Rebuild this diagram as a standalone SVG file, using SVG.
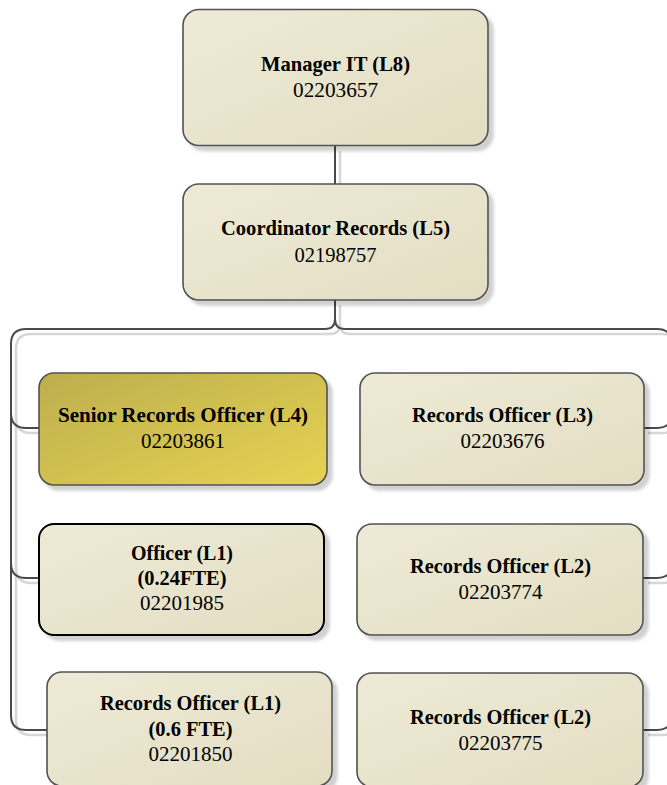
<svg xmlns="http://www.w3.org/2000/svg" width="667" height="785" viewBox="0 0 667 785">
<defs>
<linearGradient id="gBeige" x1="0" y1="0" x2="1" y2="1">
<stop offset="0" stop-color="#EEEAD6"/>
<stop offset="1" stop-color="#E3DDC2"/>
</linearGradient>
<linearGradient id="gGold" x1="0" y1="0" x2="1" y2="1">
<stop offset="0" stop-color="#BDAE4E"/>
<stop offset="1" stop-color="#E6D352"/>
</linearGradient>
<filter id="sh" x="-10%" y="-10%" width="130%" height="130%">
<feDropShadow dx="5" dy="5" stdDeviation="1.5" flood-color="#000" flood-opacity="0.18"/>
</filter>
<style>
.box{fill:url(#gBeige);stroke:#525252;stroke-width:1.6;filter:url(#sh)}
.gold{fill:url(#gGold)}
.blk{stroke:#000;stroke-width:2}
.t{font-family:"Liberation Serif","Times New Roman",serif;font-size:21px;font-weight:bold;fill:#000;text-anchor:middle}
.n{font-family:"Liberation Serif","Times New Roman",serif;font-size:21px;fill:#000;text-anchor:middle}
.c{fill:none;stroke:#4a4a4a;stroke-width:2}
.cs{fill:none;stroke:#d6d6d6;stroke-width:2.5}
</style>
</defs>
<rect width="667" height="785" fill="#fff"/>
<g id="connectors">
<g transform="translate(5,5)" class="cs">
<path d="M335,146 V184"/>
<path d="M335,300 V319 Q335,329 325,329 H26 Q11,329 11,344 V715 Q11,730 26,730 H47"/>
<path d="M11,413 Q11,428 26,428 H39"/>
<path d="M11,563 Q11,578 26,578 H39"/>
<path d="M335,319 Q335,329 345,329 H657 Q672,329 672,344 V715"/>
<path d="M643,428 H657 Q672,428 672,413"/>
<path d="M643,578 H657 Q672,578 672,563"/>
<path d="M643,730 H657 Q672,730 672,715"/>
</g>
<g class="c">
<path d="M335,146 V184"/>
<path d="M335,300 V319 Q335,329 325,329 H26 Q11,329 11,344 V715 Q11,730 26,730 H47"/>
<path d="M11,413 Q11,428 26,428 H39"/>
<path d="M11,563 Q11,578 26,578 H39"/>
<path d="M335,319 Q335,329 345,329 H657 Q672,329 672,344 V715"/>
<path d="M643,428 H657 Q672,428 672,413"/>
<path d="M643,578 H657 Q672,578 672,563"/>
<path d="M643,730 H657 Q672,730 672,715"/>
</g>
</g>
<g id="manager">
<rect class="box" x="183" y="9.5" width="305" height="136" rx="16"/>
<text class="t" x="335.5" y="71" textLength="149" lengthAdjust="spacingAndGlyphs">Manager IT (L8)</text>
<text class="n" x="335.5" y="97" textLength="85" lengthAdjust="spacingAndGlyphs">02203657</text>
</g>
<g id="coordinator">
<rect class="box" x="183" y="184" width="305" height="116" rx="16"/>
<text class="t" x="335.5" y="235" textLength="229" lengthAdjust="spacingAndGlyphs">Coordinator Records (L5)</text>
<text class="n" x="335.5" y="262" textLength="82" lengthAdjust="spacingAndGlyphs">02198757</text>
</g>
<g id="senior">
<rect class="box gold" x="39" y="373" width="288" height="112" rx="15"/>
<text class="t" x="183" y="422" textLength="250" lengthAdjust="spacingAndGlyphs">Senior Records Officer (L4)</text>
<text class="n" x="183" y="448" textLength="84" lengthAdjust="spacingAndGlyphs">02203861</text>
</g>
<g id="ro-l3">
<rect class="box" x="360" y="373" width="284" height="112" rx="15"/>
<text class="t" x="502.5" y="422" textLength="181" lengthAdjust="spacingAndGlyphs">Records Officer (L3)</text>
<text class="n" x="502.5" y="448" textLength="84" lengthAdjust="spacingAndGlyphs">02203676</text>
</g>
<g id="officer-l1">
<rect class="box blk" x="39" y="524" width="285" height="111" rx="15"/>
<text class="t" x="182" y="560" textLength="102" lengthAdjust="spacingAndGlyphs">Officer (L1)</text>
<text class="t" x="182" y="585" textLength="89" lengthAdjust="spacingAndGlyphs">(0.24FTE)</text>
<text class="n" x="182" y="610" textLength="84" lengthAdjust="spacingAndGlyphs">02201985</text>
</g>
<g id="ro-l2-a">
<rect class="box" x="357" y="524" width="286" height="111" rx="15"/>
<text class="t" x="500.5" y="573" textLength="181" lengthAdjust="spacingAndGlyphs">Records Officer (L2)</text>
<text class="n" x="500.5" y="599" textLength="84" lengthAdjust="spacingAndGlyphs">02203774</text>
</g>
<g id="ro-l1">
<rect class="box" x="47" y="672" width="285" height="114" rx="15"/>
<text class="t" x="190.5" y="710" textLength="181" lengthAdjust="spacingAndGlyphs">Records Officer (L1)</text>
<text class="t" x="190.5" y="736" textLength="84" lengthAdjust="spacingAndGlyphs">(0.6 FTE)</text>
<text class="n" x="190.5" y="761" textLength="84" lengthAdjust="spacingAndGlyphs">02201850</text>
</g>
<g id="ro-l2-b">
<rect class="box" x="357" y="673" width="286" height="114" rx="15"/>
<text class="t" x="500.5" y="724" textLength="181" lengthAdjust="spacingAndGlyphs">Records Officer (L2)</text>
<text class="n" x="500.5" y="750" textLength="84" lengthAdjust="spacingAndGlyphs">02203775</text>
</g>
</svg>
